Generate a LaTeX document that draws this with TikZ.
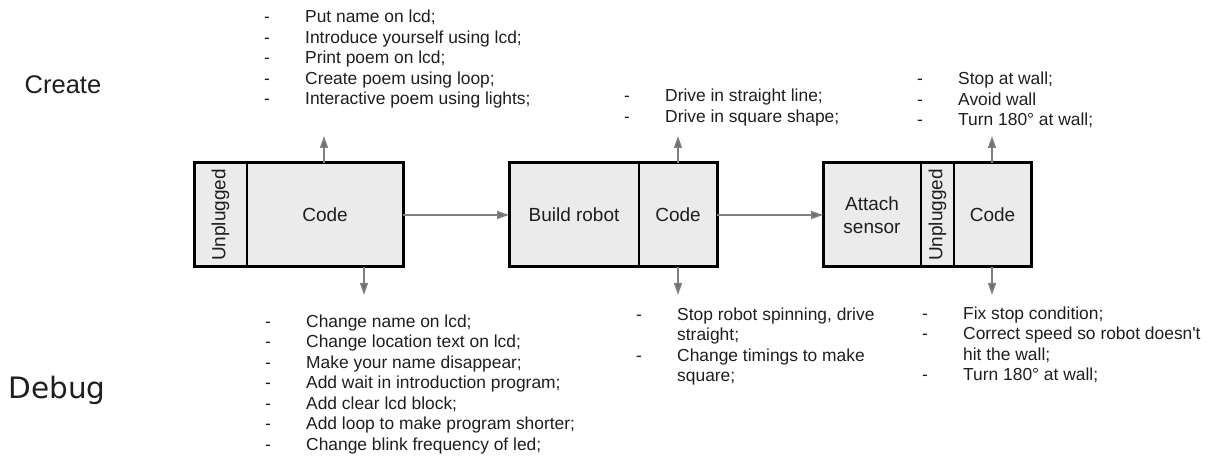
\documentclass[tikz,border=0pt]{standalone}
\usepackage{fontspec}
\usepackage{graphicx}
\setmainfont{Liberation Sans}
\newfontfamily\dejavu{DejaVu Sans}
\newfontfamily\lsplain{Liberation Sans}
\usetikzlibrary{arrows.meta}
\definecolor{boxgray}{HTML}{EBEBEB}
\definecolor{linegray}{HTML}{808080}
\definecolor{txt}{HTML}{1E1E1E}
\newcommand{\dsh}{\makebox[41pt][l]{-}}
\newcommand{\nodsh}{\makebox[41pt][l]{}}
\tikzset{
  sect/.style={draw=black, line width=1.3pt, fill=boxgray, minimum height=104pt,
    inner sep=0pt, outer sep=0pt, text=txt, font=\fontsize{19}{23}\selectfont, align=center},
  frame/.style={draw=black, line width=3pt, inner sep=0pt, outer sep=0pt, minimum height=104pt},
  conn/.style={draw=linegray, line width=1.5pt, -{Triangle[length=12pt,width=8pt,fill=linegray!85!black]}},
  lst/.style={anchor=base west, inner sep=0pt, text=txt, align=left, font=\fontsize{17.4}{20.5}\selectfont},
  lbl/.style={inner sep=0pt, text=txt},
}
\begin{document}
\begin{tikzpicture}[x=1pt,y=-1pt]
\useasboundingbox (0,0) rectangle (1208,457);
% side labels
\node[lbl, font=\fontsize{25.5}{30}\selectfont] (create) at (63,85) {Create};
\node[lbl, font=\dejavu\fontsize{29.5}{35}\selectfont] (debug) at (57,390) {Debug};
% box 1
\node[sect, minimum width=53pt] (b1u) at (220.5,215) {\rotatebox{90}{Unplugged}};
\node[sect, minimum width=156pt] (b1c) at (325,215) {Code};
\node[frame, minimum width=209pt] (b1) at (298.5,215) {};
% box 2
\node[sect, minimum width=130pt] (b2b) at (574,215) {Build robot};
\node[sect, minimum width=78pt] (b2c) at (678,215) {Code};
\node[frame, minimum width=208pt] (b2) at (613,215) {};
% box 3
\node[sect, minimum width=98pt] (b3a) at (872,215) {Attach\\sensor};
\node[sect, minimum width=33pt] (b3u) at (937.5,215) {\rotatebox{90}{Unplugged}};
\node[sect, minimum width=77pt] (b3c) at (992.5,215) {Code};
\node[frame, minimum width=208pt] (b3) at (927,215) {};
% horizontal connectors
\draw[conn] (b1) -- (b2);
\draw[conn] (b2) -- (b3);
% vertical connectors
\coordinate (u1) at (324,136);
\coordinate (d1) at (364,295);
\coordinate (u2) at (678,136);
\coordinate (d2) at (678,295);
\coordinate (u3) at (992,136);
\coordinate (d3) at (992,295);
\draw[conn] (b1.north -| u1) -- (u1);
\draw[conn] (b1.south -| d1) -- (d1);
\draw[conn] (b2.north -| u2) -- (u2);
\draw[conn] (b2.south -| d2) -- (d2);
\draw[conn] (b3.north -| u3) -- (u3);
\draw[conn] (b3.south -| d3) -- (d3);
% lists (anchored at the baseline of their last line)
\node[lst] (c1) at (264,105) {\dsh Put name on lcd;\\
\dsh Introduce yourself using lcd;\\
\dsh Print poem on lcd;\\
\dsh Create poem using loop;\\
\dsh Interactive poem using lights;};
\node[lst] (c2) at (624,122.5) {\dsh Drive in straight line;\\
\dsh Drive in square shape;};
\node[lst] (c3) at (917,126) {\dsh Stop at wall;\\
\dsh Avoid wall\\
\dsh Turn 180° at wall;};
\node[lst] (e1) at (265,450) {\dsh Change name on lcd;\\
\dsh Change location text on lcd;\\
\dsh Make your name disappear;\\
\dsh Add wait in introduction program;\\
\dsh Add clear lcd block;\\
\dsh Add loop to make program shorter;\\
\dsh Change blink frequency of led;};
\node[lst] (e2) at (636,381.5) {\dsh Stop robot spinning, drive\\
\nodsh straight;\\
\dsh Change timings to make\\
\nodsh square;};
\node[lst] (e3) at (922,380.5) {\dsh Fix stop condition;\\
\dsh Correct speed so robot doesn{\lsplain'}t\\
\nodsh hit the wall;\\
\dsh Turn 180° at wall;};
\end{tikzpicture}
\end{document}
